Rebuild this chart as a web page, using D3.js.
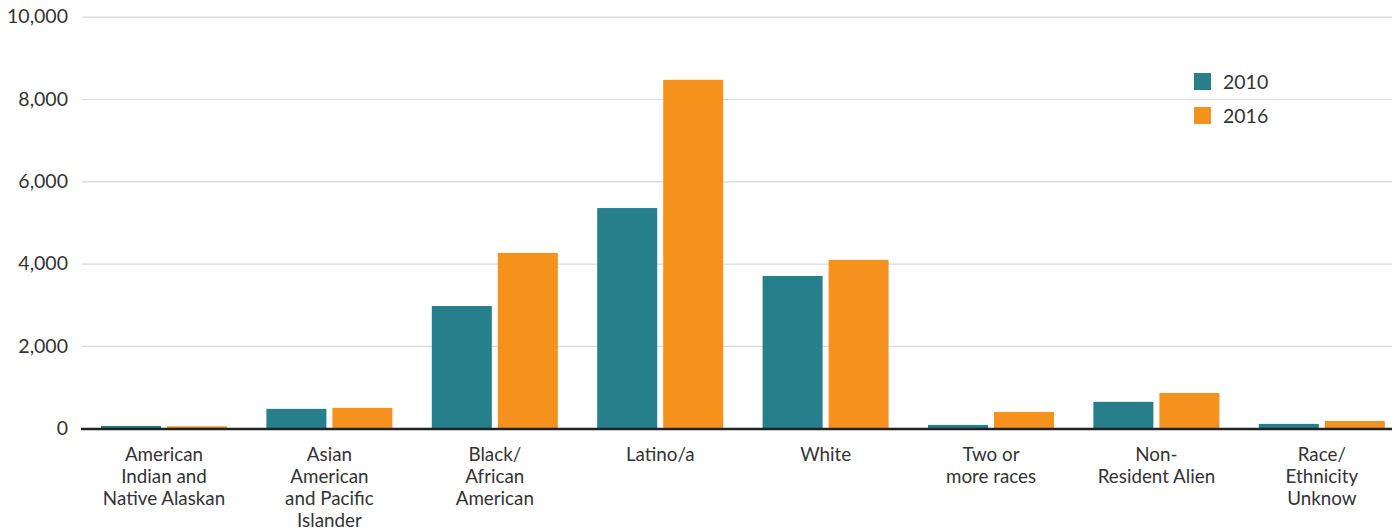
<!DOCTYPE html>
<html><head><meta charset="utf-8">
<script src="https://cdn.jsdelivr.net/npm/d3@7"></script>
<style>
body{margin:0;background:#fff;}
svg text{font-family:Lato,"Open Sans",sans-serif;fill:#333;}
</style></head>
<body><svg id="c" width="1392" height="529"></svg>
<script>
const categories = [
  ["American","Indian and","Native Alaskan"],
  ["Asian","American","and Pacific","Islander"],
  ["Black/","African","American"],
  ["Latino/a"],
  ["White"],
  ["Two or","more races"],
  ["Non-","Resident Alien"],
  ["Race/","Ethnicity","Unknow"]
];
const seriesNames = ["2010","2016"];
const values2010 = [55, 470, 2970, 5350, 3700, 80, 640, 105];
const values2016 = [45, 495, 4260, 8465, 4090, 395, 855, 175];
const yTicks = [0, 2000, 4000, 6000, 8000, 10000];
const colors = ["#267F8A", "#F5921E"];

const svg = d3.select("#c");
const ids = categories.map((c,i)=>i);
const x = d3.scaleBand().domain(ids).range([81.3, 1404.5]).padding(0);
const inner = d3.scaleBand().domain([0,1]).range([0,126]).paddingInner(0.0909);
const y = d3.scaleLinear().domain([0,10000]).range([428.2, 16.7]);

// gridlines
const gAxis = svg.append("g").attr("transform","translate(82,0)")
  .call(d3.axisLeft(y).tickValues(yTicks).tickSize(-1320).tickFormat(d3.format(",")));
gAxis.select(".domain").remove();
gAxis.selectAll(".tick line").attr("stroke","#d9d9d9").attr("stroke-width",1.2);
gAxis.selectAll(".tick text").attr("x",-14).attr("font-size","19.5px").attr("fill","#333");

const data = ids.map(i=>[values2010[i], values2016[i]]);
const groups = svg.append("g").selectAll("g").data(data).join("g")
  .attr("transform",(d,i)=>`translate(${x(i)+(x.bandwidth()-126)/2},0)`);
groups.selectAll("rect").data(d=>d).join("rect")
  .attr("x",(d,j)=>inner(j)).attr("width",inner.bandwidth())
  .attr("y",d=>y(d)).attr("height",d=>y(0)-y(d))
  .attr("fill",(d,j)=>colors[j]);

// baseline
svg.append("line").attr("x1",81).attr("x2",1392).attr("y1",y(0)+0.8).attr("y2",y(0)+0.8)
  .attr("stroke","#222").attr("stroke-width",2.5);

// category labels
const lab = svg.append("g").selectAll("text").data(categories).join("text")
  .attr("text-anchor","middle").attr("font-size","18.8px")
  .attr("transform",(d,i)=>`translate(${x(i)+x.bandwidth()/2},0)`);
lab.selectAll("tspan").data(d=>d).join("tspan")
  .attr("x",0).attr("y",(d,k)=>460.5+k*22).text(d=>d);

// legend
const leg = svg.append("g").selectAll("g").data(seriesNames).join("g")
  .attr("transform",(d,i)=>`translate(1194,${73+i*34})`);
leg.append("rect").attr("width",17).attr("height",17).attr("fill",(d,i)=>colors[i]);
leg.append("text").attr("x",29).attr("y",15.5).attr("font-size","19.5px").text(d=>d);
</script></body></html>
